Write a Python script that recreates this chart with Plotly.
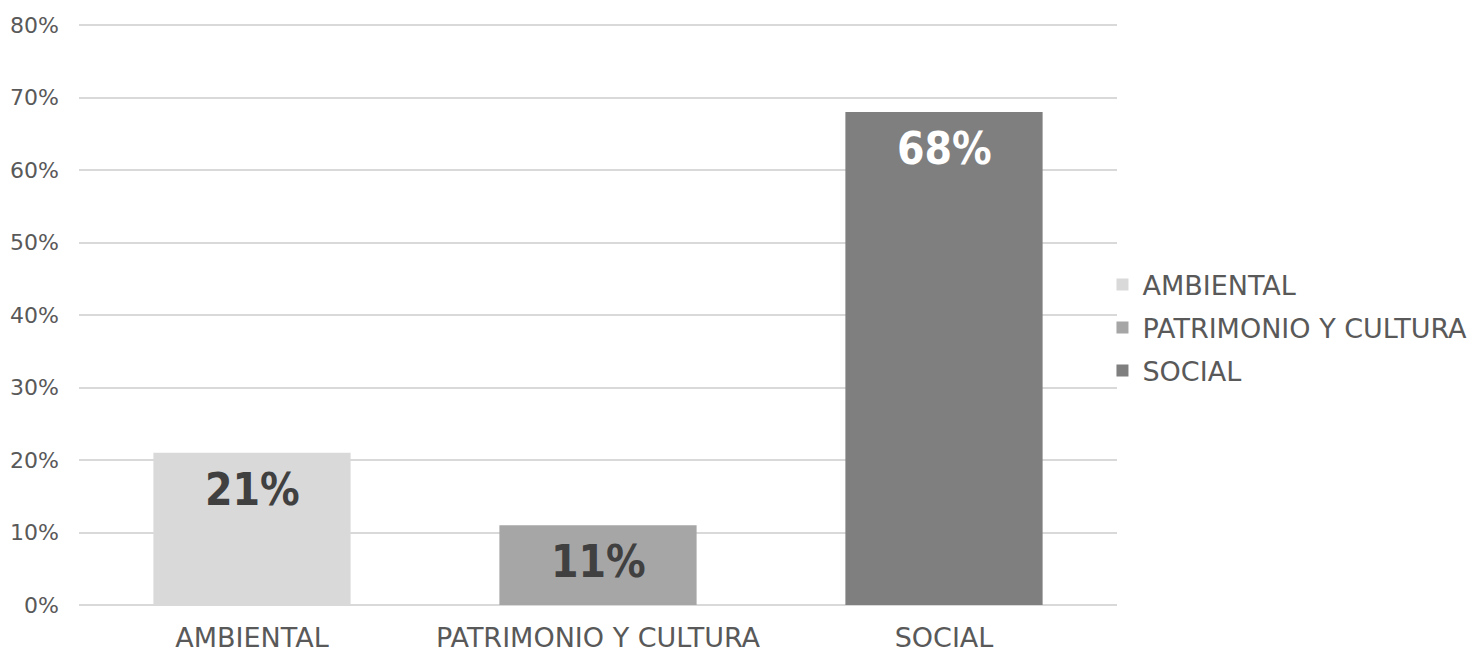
import plotly.graph_objects as go

categories = ["AMBIENTAL", "PATRIMONIO Y CULTURA", "SOCIAL"]
values = [0.21, 0.11, 0.68]
labels = ["21%", "11%", "68%"]
colors = ["#D9D9D9", "#A6A6A6", "#7F7F7F"]
label_colors = ["#404040", "#404040", "#FFFFFF"]
y_ticks = [0, 0.1, 0.2, 0.3, 0.4, 0.5, 0.6, 0.7, 0.8]

fig = go.Figure()
for cat, v, c in zip(categories, values, colors):
    fig.add_trace(go.Bar(x=[cat], y=[v], name=cat, legendgroup=cat,
                         marker=dict(color=c, line=dict(width=0)), hoverinfo="skip"))

for cat, v, t, lc in zip(categories, values, labels, label_colors):
    fig.add_annotation(x=cat, y=v, text="<b>" + t + "</b>", showarrow=False, yanchor="top",
                       yshift=-9,
                       font=dict(family="DejaVu Sans Condensed, sans-serif", size=44, color=lc))

fig.update_layout(
    width=1472, height=654,
    margin=dict(l=79, r=355, t=24, b=49, autoexpand=False),
    paper_bgcolor="white", plot_bgcolor="white",
    barmode="overlay", bargap=0.43,
    font=dict(family="DejaVu Sans, sans-serif", size=27, color="#595959"),
    legend=dict(x=0.986, xanchor="left", y=0.477, yanchor="middle",
                font=dict(size=27, color="#595959"), traceorder="grouped",
                tracegroupgap=5, itemwidth=30, bgcolor="rgba(0,0,0,0)"),
    showlegend=True,
)
fig.update_xaxes(categoryorder="array", categoryarray=categories, showline=False,
                 ticks="", tickfont=dict(size=27, color="#595959"), ticklabelstandoff=14,
                 automargin=False)
fig.update_yaxes(range=[0, 0.8015], tickvals=y_ticks, tickformat=".0%", showgrid=True,
                 gridcolor="#D9D9D9", gridwidth=1.5, zeroline=True, zerolinecolor="#D9D9D9",
                 zerolinewidth=1.5, ticks="", ticklabelstandoff=19, automargin=False,
                 tickfont=dict(size=22, color="#595959"))

fig.write_html("out.html", config={"displayModeBar": False},
               post_script="document.body.style.margin='0';")
